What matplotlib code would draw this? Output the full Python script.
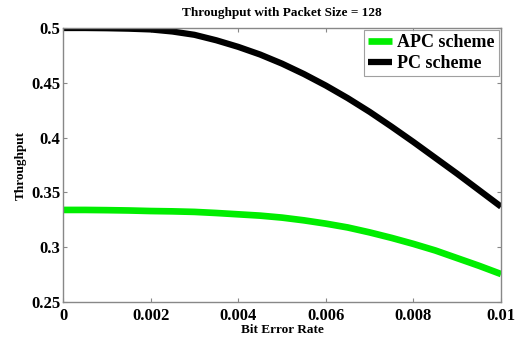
import numpy as np
import matplotlib.pyplot as plt

# bit error rate samples
ber = [0.0, 0.0005, 0.001, 0.0015, 0.002, 0.0025, 0.003, 0.0035, 0.004, 0.0045,
       0.005, 0.0055, 0.006, 0.0065, 0.007, 0.0075, 0.008, 0.0085, 0.009, 0.0095, 0.01]

# throughput
apc = [0.334, 0.334, 0.3338, 0.3335, 0.333, 0.3327, 0.3322, 0.3312, 0.3300, 0.3288,
       0.3270, 0.3245, 0.3215, 0.3180, 0.3135, 0.3085, 0.3030, 0.2970, 0.2900, 0.2830, 0.2755]
pc = [0.5, 0.5, 0.4998, 0.4994, 0.4987, 0.4968, 0.4938, 0.4888, 0.4828, 0.4758,
      0.4675, 0.4580, 0.4475, 0.4360, 0.4235, 0.4100, 0.3960, 0.3815, 0.3670, 0.3520, 0.3370]

xticks = [0, 0.002, 0.004, 0.006, 0.008, 0.01]
xticklabels = ['0', '0.002', '0.004', '0.006', '0.008', '0.01']
yticks = [0.25, 0.3, 0.35, 0.4, 0.45, 0.5]
yticklabels = ['0.25', '0.3', '0.35', '0.4', '0.45', '0.5']

plt.rcParams['font.family'] = ['Liberation Serif', 'DejaVu Serif']
plt.rcParams['font.weight'] = 'bold'

fig = plt.figure(figsize=(5.23, 3.4), dpi=100)
ax = fig.add_axes([0.1205, 0.1118, 0.8375, 0.8058])

ax.plot(ber, apc, color='#00ee00', linewidth=4.8, label='APC scheme',
        solid_joinstyle='round', solid_capstyle='butt')
ax.plot(ber, pc, color='black', linewidth=4.5, label='PC scheme',
        solid_joinstyle='round', solid_capstyle='butt')

ax.set_xlim(0, 0.01)
ax.set_ylim(0.25, 0.5)
ax.set_xticks(xticks)
ax.set_xticklabels(xticklabels, fontsize=12, fontweight='bold')
ax.set_yticks(yticks)
ax.set_yticklabels(yticklabels, fontsize=12, fontweight='bold')
ax.tick_params(direction='in', length=3, width=0.8, color='#888888',
               top=True, right=True)
ax.tick_params(axis='x', pad=4)
ax.tick_params(axis='y', pad=2)
for s in ax.spines.values():
    s.set_color('#888888')
    s.set_linewidth(1.0)

ax.set_title('Throughput with Packet Size = 128', fontsize=9.5, fontweight='bold', pad=9)
ax.set_xlabel('Bit Error Rate', fontsize=9.5, fontweight='bold', labelpad=0)
ax.set_ylabel('Throughput', fontsize=9.5, fontweight='bold', labelpad=3)

leg = ax.legend(loc='upper right', prop={'weight': 'bold', 'size': 13},
                handlelength=1.3, handletextpad=0.3, borderpad=0.25,
                labelspacing=0.2, borderaxespad=0.1, fancybox=False)
leg.get_frame().set_edgecolor('#888888')
leg.get_frame().set_linewidth(0.8)

plt.savefig('out.png', dpi=100)
